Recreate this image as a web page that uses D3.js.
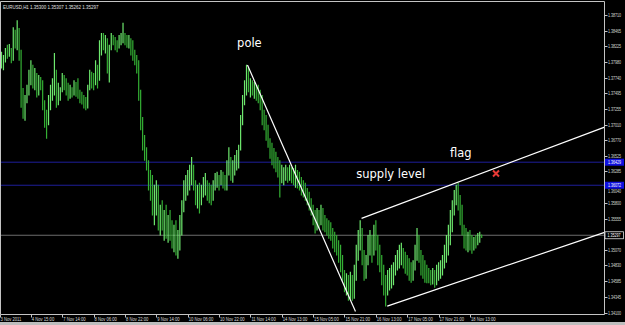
<!DOCTYPE html>
<html><head><meta charset="utf-8">
<script src="https://cdn.jsdelivr.net/npm/d3@7"></script>
<style>html,body{margin:0;padding:0;background:#000;overflow:hidden}</style>
</head><body>
<svg id="c" width="625" height="325"></svg>
<script>
const symbolTitle = "EURUSD,H1  1.35300 1.35307 1.35262 1.35297";
const timeLabels = ["3 Nov 2011","4 Nov 15:00","7 Nov 14:00","8 Nov 06:00","8 Nov 22:00","9 Nov 14:00","10 Nov 06:00","10 Nov 22:00","11 Nov 14:00","14 Nov 13:00","15 Nov 05:00","15 Nov 21:00","16 Nov 13:00","17 Nov 05:00","17 Nov 21:00","18 Nov 13:00"];
const priceTicks = [1.38710,1.38465,1.38225,1.37980,1.37740,1.37495,1.37255,1.37010,1.36770,1.36525,1.36285,1.36040,1.35800,1.35555,1.35070,1.34830,1.34585,1.34345,1.34100];
const closes = [
1.3798,1.3804,1.3814,1.3809,1.3820,1.3804,1.3840,1.3829,1.3848,1.3814,
1.3739,1.3724,1.3739,1.3752,1.3773,1.3786,1.3770,1.3778,1.3758,1.3770,
1.3763,1.3739,1.3708,1.3701,1.3739,1.3755,1.3763,1.3786,1.3747,1.3752,
1.3755,1.3770,1.3767,1.3758,1.3752,1.3755,1.3752,1.3758,1.3755,1.3747,
1.3744,1.3739,1.3736,1.3732,1.3758,1.3778,1.3770,1.3767,1.3786,1.3770,
1.3825,1.3832,1.3825,1.3835,1.3801,1.3817,1.3835,1.3832,1.3825,1.3821,
1.3832,1.3835,1.3840,1.3835,1.3829,1.3832,1.3817,1.3809,1.3801,1.3789,
1.3747,1.3705,1.3677,1.3654,1.3639,1.3615,1.3608,1.3577,1.3584,1.3600,
1.3553,1.3561,1.3546,1.3561,1.3538,1.3546,1.3535,1.3522,1.3530,1.3515,
1.3522,1.3553,1.3569,1.3600,1.3608,1.3615,1.3628,1.3631,1.3615,1.3592,
1.3600,1.3584,1.3592,1.3608,1.3615,1.3600,1.3592,1.3587,1.3608,1.3615,
1.3618,1.3615,1.3623,1.3615,1.3608,1.3631,1.3639,1.3631,1.3634,1.3646,
1.3646,1.3662,1.3708,1.3739,1.3763,1.3778,1.3758,1.3763,1.3755,1.3758,
1.3752,1.3742,1.3732,1.3711,1.3701,1.3685,1.3677,1.3662,1.3654,1.3646,
1.3639,1.3634,1.3623,1.3623,1.3628,1.3631,1.3623,1.3628,1.3623,1.3618,
1.3623,1.3615,1.3612,1.3603,1.3600,1.3597,1.3584,1.3577,1.3569,1.3556,
1.3546,1.3553,1.3550,1.3561,1.3546,1.3541,1.3538,1.3535,1.3530,1.3522,
1.3515,1.3510,1.3499,1.3484,1.3468,1.3453,1.3457,1.3445,1.3453,1.3442,
1.3476,1.3507,1.3522,1.3541,1.3499,1.3476,1.3488,1.3515,1.3522,1.3507,
1.3530,1.3522,1.3499,1.3491,1.3468,1.3453,1.3445,1.3460,1.3463,1.3473,
1.3479,1.3488,1.3494,1.3504,1.3507,1.3494,1.3488,1.3479,1.3476,1.3473,
1.3484,1.3507,1.3522,1.3507,1.3484,1.3479,1.3473,1.3468,1.3463,1.3460,
1.3466,1.3463,1.3473,1.3476,1.3484,1.3491,1.3507,1.3522,1.3538,1.3561,
1.3577,1.3592,1.3600,1.3584,1.3561,1.3541,1.3530,1.3522,1.3525,1.3519,
1.3515,1.3522,1.3519,1.3525,1.3528,1.35297];
const opens = [1.3790,
1.3798,1.3804,1.3814,1.3809,1.3820,1.3804,1.3840,1.3829,1.3848,1.3814,
1.3739,1.3724,1.3739,1.3752,1.3773,1.3786,1.3770,1.3778,1.3758,1.3770,
1.3763,1.3739,1.3708,1.3701,1.3739,1.3755,1.3763,1.3786,1.3747,1.3752,
1.3755,1.3770,1.3767,1.3758,1.3752,1.3755,1.3752,1.3758,1.3755,1.3747,
1.3744,1.3739,1.3736,1.3732,1.3758,1.3778,1.3770,1.3767,1.3786,1.3770,
1.3825,1.3832,1.3825,1.3835,1.3801,1.3817,1.3835,1.3832,1.3825,1.3821,
1.3832,1.3835,1.3840,1.3835,1.3829,1.3832,1.3817,1.3809,1.3801,1.3789,
1.3747,1.3705,1.3677,1.3654,1.3639,1.3615,1.3608,1.3577,1.3584,1.3600,
1.3553,1.3561,1.3546,1.3561,1.3538,1.3546,1.3535,1.3522,1.3530,1.3515,
1.3522,1.3553,1.3569,1.3600,1.3608,1.3615,1.3628,1.3631,1.3615,1.3592,
1.3600,1.3584,1.3592,1.3608,1.3615,1.3600,1.3592,1.3587,1.3608,1.3615,
1.3618,1.3615,1.3623,1.3615,1.3608,1.3631,1.3639,1.3631,1.3634,1.3646,
1.3646,1.3662,1.3708,1.3739,1.3763,1.3778,1.3758,1.3763,1.3755,1.3758,
1.3752,1.3742,1.3732,1.3711,1.3701,1.3685,1.3677,1.3662,1.3654,1.3646,
1.3639,1.3634,1.3623,1.3623,1.3628,1.3631,1.3623,1.3628,1.3623,1.3618,
1.3623,1.3615,1.3612,1.3603,1.3600,1.3597,1.3584,1.3577,1.3569,1.3556,
1.3546,1.3553,1.3550,1.3561,1.3546,1.3541,1.3538,1.3535,1.3530,1.3522,
1.3515,1.3510,1.3499,1.3484,1.3468,1.3453,1.3457,1.3445,1.3453,1.3442,
1.3476,1.3507,1.3522,1.3541,1.3499,1.3476,1.3488,1.3515,1.3522,1.3507,
1.3530,1.3522,1.3499,1.3491,1.3468,1.3453,1.3445,1.3460,1.3463,1.3473,
1.3479,1.3488,1.3494,1.3504,1.3507,1.3494,1.3488,1.3479,1.3476,1.3473,
1.3484,1.3507,1.3522,1.3507,1.3484,1.3479,1.3473,1.3468,1.3463,1.3460,
1.3466,1.3463,1.3473,1.3476,1.3484,1.3491,1.3507,1.3522,1.3538,1.3561,
1.3577,1.3592,1.3600,1.3584,1.3561,1.3541,1.3530,1.3522,1.3525,1.3519,
1.3515,1.3522,1.3519,1.3525,1.35300];
const highs = [
1.3814,1.3809,1.3820,1.3825,1.3826,1.3817,1.3852,1.3848,1.3863,1.3851,
1.3817,1.3758,1.3747,1.3763,1.3786,1.3801,1.3794,1.3789,1.3781,1.3778,
1.3775,1.3770,1.3739,1.3724,1.3747,1.3763,1.3773,1.3812,1.3786,1.3766,
1.3759,1.3781,1.3778,1.3773,1.3766,1.3763,1.3759,1.3770,1.3767,1.3773,
1.3755,1.3752,1.3747,1.3744,1.3763,1.3786,1.3783,1.3781,1.3801,1.3794,
1.3832,1.3843,1.3843,1.3840,1.3832,1.3825,1.3843,1.3840,1.3837,1.3832,
1.3840,1.3843,1.3859,1.3843,1.3840,1.3840,1.3835,1.3832,1.3817,1.3809,
1.3801,1.3755,1.3713,1.3685,1.3666,1.3646,1.3631,1.3623,1.3608,1.3615,
1.3608,1.3577,1.3584,1.3569,1.3577,1.3561,1.3569,1.3553,1.3546,1.3553,
1.3538,1.3561,1.3584,1.3615,1.3623,1.3631,1.3639,1.3651,1.3639,1.3615,
1.3608,1.3611,1.3608,1.3620,1.3626,1.3615,1.3611,1.3608,1.3615,1.3626,
1.3628,1.3623,1.3631,1.3628,1.3623,1.3646,1.3666,1.3651,1.3646,1.3654,
1.3662,1.3670,1.3716,1.3747,1.3770,1.3794,1.3789,1.3773,1.3770,1.3767,
1.3763,1.3763,1.3755,1.3747,1.3724,1.3716,1.3701,1.3680,1.3673,1.3665,
1.3659,1.3651,1.3646,1.3639,1.3635,1.3639,1.3635,1.3639,1.3635,1.3634,
1.3639,1.3631,1.3628,1.3620,1.3615,1.3611,1.3603,1.3597,1.3587,1.3577,
1.3569,1.3572,1.3569,1.3577,1.3572,1.3561,1.3556,1.3553,1.3550,1.3541,
1.3535,1.3530,1.3522,1.3515,1.3499,1.3476,1.3471,1.3468,1.3473,1.3468,
1.3484,1.3515,1.3538,1.3553,1.3541,1.3507,1.3499,1.3530,1.3538,1.3530,
1.3546,1.3553,1.3530,1.3515,1.3499,1.3484,1.3468,1.3476,1.3479,1.3484,
1.3488,1.3499,1.3507,1.3515,1.3518,1.3510,1.3504,1.3499,1.3494,1.3488,
1.3491,1.3515,1.3541,1.3530,1.3507,1.3499,1.3491,1.3484,1.3479,1.3476,
1.3479,1.3476,1.3484,1.3488,1.3491,1.3499,1.3515,1.3530,1.3546,1.3569,
1.3584,1.3600,1.3608,1.3611,1.3592,1.3577,1.3546,1.3541,1.3535,1.3538,
1.3530,1.3527,1.3530,1.3533,1.3535,1.35307];
const lows = [
1.3789,1.3786,1.3798,1.3804,1.3807,1.3797,1.3801,1.3820,1.3817,1.3801,
1.3728,1.3711,1.3708,1.3735,1.3747,1.3763,1.3758,1.3755,1.3744,1.3747,
1.3755,1.3724,1.3697,1.3680,1.3708,1.3724,1.3739,1.3747,1.3728,1.3732,
1.3739,1.3752,1.3755,1.3747,1.3739,1.3742,1.3744,1.3747,1.3745,1.3742,
1.3735,1.3733,1.3727,1.3724,1.3727,1.3755,1.3758,1.3755,1.3763,1.3758,
1.3770,1.3809,1.3817,1.3812,1.3781,1.3767,1.3820,1.3825,1.3817,1.3814,
1.3820,1.3825,1.3828,1.3825,1.3821,1.3820,1.3809,1.3801,1.3794,1.3781,
1.3739,1.3693,1.3662,1.3646,1.3631,1.3600,1.3584,1.3561,1.3546,1.3561,
1.3538,1.3530,1.3538,1.3522,1.3525,1.3519,1.3522,1.3510,1.3504,1.3499,
1.3494,1.3507,1.3530,1.3566,1.3584,1.3592,1.3600,1.3608,1.3600,1.3577,
1.3572,1.3564,1.3577,1.3589,1.3592,1.3584,1.3580,1.3577,1.3584,1.3600,
1.3604,1.3600,1.3608,1.3603,1.3600,1.3600,1.3623,1.3615,1.3612,1.3623,
1.3631,1.3634,1.3662,1.3701,1.3732,1.3747,1.3752,1.3744,1.3747,1.3742,
1.3739,1.3735,1.3724,1.3701,1.3693,1.3677,1.3666,1.3649,1.3639,1.3634,
1.3628,1.3620,1.3589,1.3611,1.3608,1.3615,1.3612,1.3615,1.3611,1.3608,
1.3604,1.3603,1.3600,1.3592,1.3589,1.3584,1.3577,1.3569,1.3561,1.3546,
1.3533,1.3538,1.3541,1.3546,1.3538,1.3535,1.3530,1.3525,1.3522,1.3510,
1.3504,1.3499,1.3488,1.3473,1.3460,1.3442,1.3437,1.3429,1.3432,1.3429,
1.3432,1.3460,1.3491,1.3507,1.3484,1.3460,1.3463,1.3484,1.3499,1.3488,
1.3499,1.3507,1.3484,1.3473,1.3453,1.3437,1.3420,1.3437,1.3445,1.3448,
1.3453,1.3468,1.3476,1.3479,1.3484,1.3479,1.3471,1.3468,1.3460,1.3457,
1.3460,1.3476,1.3491,1.3488,1.3468,1.3463,1.3457,1.3456,1.3456,1.3453,
1.3454,1.3449,1.3453,1.3460,1.3463,1.3468,1.3479,1.3488,1.3499,1.3515,
1.3535,1.3561,1.3577,1.3569,1.3546,1.3530,1.3510,1.3507,1.3504,1.3507,
1.3502,1.3507,1.3510,1.3515,1.3519,1.35262];
const levelPrices = [1.36429, 1.36072];
const bidPrice = 1.35297;
// trend lines: [bar index, price] pairs
const trendLines = [
  [[125.5, 1.37934], [180.6, 1.34116]],
  [[183.7, 1.35559], [307.7, 1.36972]],
  [[196.8, 1.34198], [307.7, 1.35342]]
];
const notes = [
  {text: "pole", i: 120.2, p: 1.38215},
  {text: "supply level", i: 181.0, p: 1.36180},
  {text: "flag", i: 228.8, p: 1.36510}
];
const crossMark = {i: 252.3, p: 1.36254};

const W = 625, H = 325;
const svg = d3.select('#c');
const x = d3.scaleLinear().domain([0, 245]).range([1.5, 481.7]);
const y = d3.scaleLinear().domain([1.34100, 1.38710]).range([312.5, 15]);
const axisX = 604.5, axisY = 314.5;

// compressed small text helper (MT4-like narrow font)
function smallText(sel, tx, ty, size, sx) {
  return sel.attr('transform', (d, i) => `translate(${tx(d, i)},${ty(d, i)}) scale(${sx},1)`)
    .attr('font-family', 'Liberation Sans').attr('font-size', size);
}

svg.append('rect').attr('width', W).attr('height', H).attr('fill', '#000');
svg.append('clipPath').attr('id', 'clip').append('rect')
  .attr('x', 1).attr('y', 2).attr('width', axisX - 1).attr('height', axisY - 2);
const g = svg.append('g').attr('clip-path', 'url(#clip)');

// horizontal levels
g.selectAll('line.level').data(levelPrices).join('line')
  .attr('x1', 0).attr('x2', axisX).attr('y1', d => y(d)).attr('y2', d => y(d))
  .attr('stroke', '#1e1e9a').attr('stroke-width', 1);
g.append('line').attr('x1', 0).attr('x2', axisX)
  .attr('y1', y(bidPrice)).attr('y2', y(bidPrice))
  .attr('stroke', '#6c6c6c').attr('stroke-width', 1);

// bars
const bars = closes.map((c, i) => ({i, o: opens[i], h: highs[i], l: lows[i], c}));
g.selectAll('line.bar').data(bars).join('line')
  .attr('x1', d => x(d.i)).attr('x2', d => x(d.i))
  .attr('y1', d => y(Math.max(d.h, d.o, d.c)))
  .attr('y2', d => y(Math.min(d.l, d.o, d.c)) + 0.5)
  .attr('stroke', d => d.c >= d.o ? '#6ee86e' : '#34b034')
  .attr('stroke-width', 1.2);

// trend lines
g.selectAll('line.trend').data(trendLines).join('line')
  .attr('x1', d => x(d[0][0])).attr('y1', d => y(d[0][1]))
  .attr('x2', d => x(d[1][0])).attr('y2', d => y(d[1][1]))
  .attr('stroke', '#ffffff').attr('stroke-width', 1.2);

// notes
g.selectAll('text.note').data(notes).join('text')
  .attr('x', d => x(d.i)).attr('y', d => y(d.p))
  .attr('fill', '#ffffff').attr('font-family', 'DejaVu Sans').attr('font-size', 11.5)
  .text(d => d.text);
const cx = x(crossMark.i), cy = y(crossMark.p);
g.append('path').attr('d', `M${cx-3},${cy-3}L${cx+3},${cy+3}M${cx+3},${cy-3}L${cx-3},${cy+3}`)
  .attr('stroke', '#e83a36').attr('stroke-width', 2);

// frame
svg.append('path')
  .attr('d', `M0.5,${axisY}V1.5H${axisX}V${axisY}H0.5`)
  .attr('fill', 'none').attr('stroke', '#c4c4c4').attr('stroke-width', 1);

// price axis
const pa = svg.append('g');
pa.selectAll('line').data(priceTicks).join('line')
  .attr('x1', axisX).attr('x2', axisX + 3).attr('y1', d => Math.round(y(d)) + 0.5).attr('y2', d => Math.round(y(d)) + 0.5)
  .attr('stroke', '#c4c4c4');
// a tick label that sits under a level label box peeks out just below it
const nudge = d => {
  const near = levelPrices.find(l => Math.abs(y(l) - y(d)) < 6);
  return near === undefined ? 0 : Math.max(0, y(near) + 3.6 + 4.6 - (y(d) + 2));
};
smallText(pa.selectAll('text').data(priceTicks).join('text'), () => axisX + 3.5, d => y(d) + 2 + nudge(d), 5.2, 0.7)
  .attr('fill', '#d8d8d8').text(d => d.toFixed(5));

// level labels
const lv = svg.append('g');
lv.selectAll('rect').data(levelPrices).join('rect')
  .attr('x', axisX + 0.5).attr('y', d => y(d) - 3.5).attr('width', 19).attr('height', 7)
  .attr('fill', '#1010e0');
smallText(lv.selectAll('text').data(levelPrices).join('text'), () => axisX + 3.5, d => y(d) + 2, 5.2, 0.7)
  .attr('fill', '#ffffff').text(d => d.toFixed(5));
// bid label
svg.append('rect').attr('x', axisX + 0.5).attr('y', y(bidPrice) - 3.5).attr('width', 18.5).attr('height', 7)
  .attr('fill', '#000').attr('stroke', '#e0e0e0').attr('stroke-width', 0.8);
smallText(svg.append('text').datum(bidPrice), () => axisX + 3, d => y(d) + 2, 5.2, 0.7)
  .attr('fill', '#ffffff').text(d => d.toFixed(5));

// time axis
const ta = svg.append('g');
const tdata = timeLabels.map((t, k) => ({t, i: k * 16}));
ta.selectAll('line').data(tdata).join('line')
  .attr('x1', d => Math.round(x(d.i) - 2) + 0.5).attr('x2', d => Math.round(x(d.i) - 2) + 0.5)
  .attr('y1', axisY).attr('y2', axisY + 3).attr('stroke', '#c4c4c4');
smallText(ta.selectAll('text').data(tdata).join('text'), d => x(d.i) - 1, () => axisY + 6, 5.4, 0.77)
  .attr('fill', '#d8d8d8').text(d => d.t);

// title
smallText(svg.append('text').datum(symbolTitle), () => 3, () => 8.5, 5.6, 0.8)
  .attr('fill', '#e0e0e0').text(d => d);

// bottom window strip
svg.append('rect').attr('x', 0).attr('y', 322).attr('width', W).attr('height', 3).attr('fill', '#bdbdbd');
</script>
</body></html>
